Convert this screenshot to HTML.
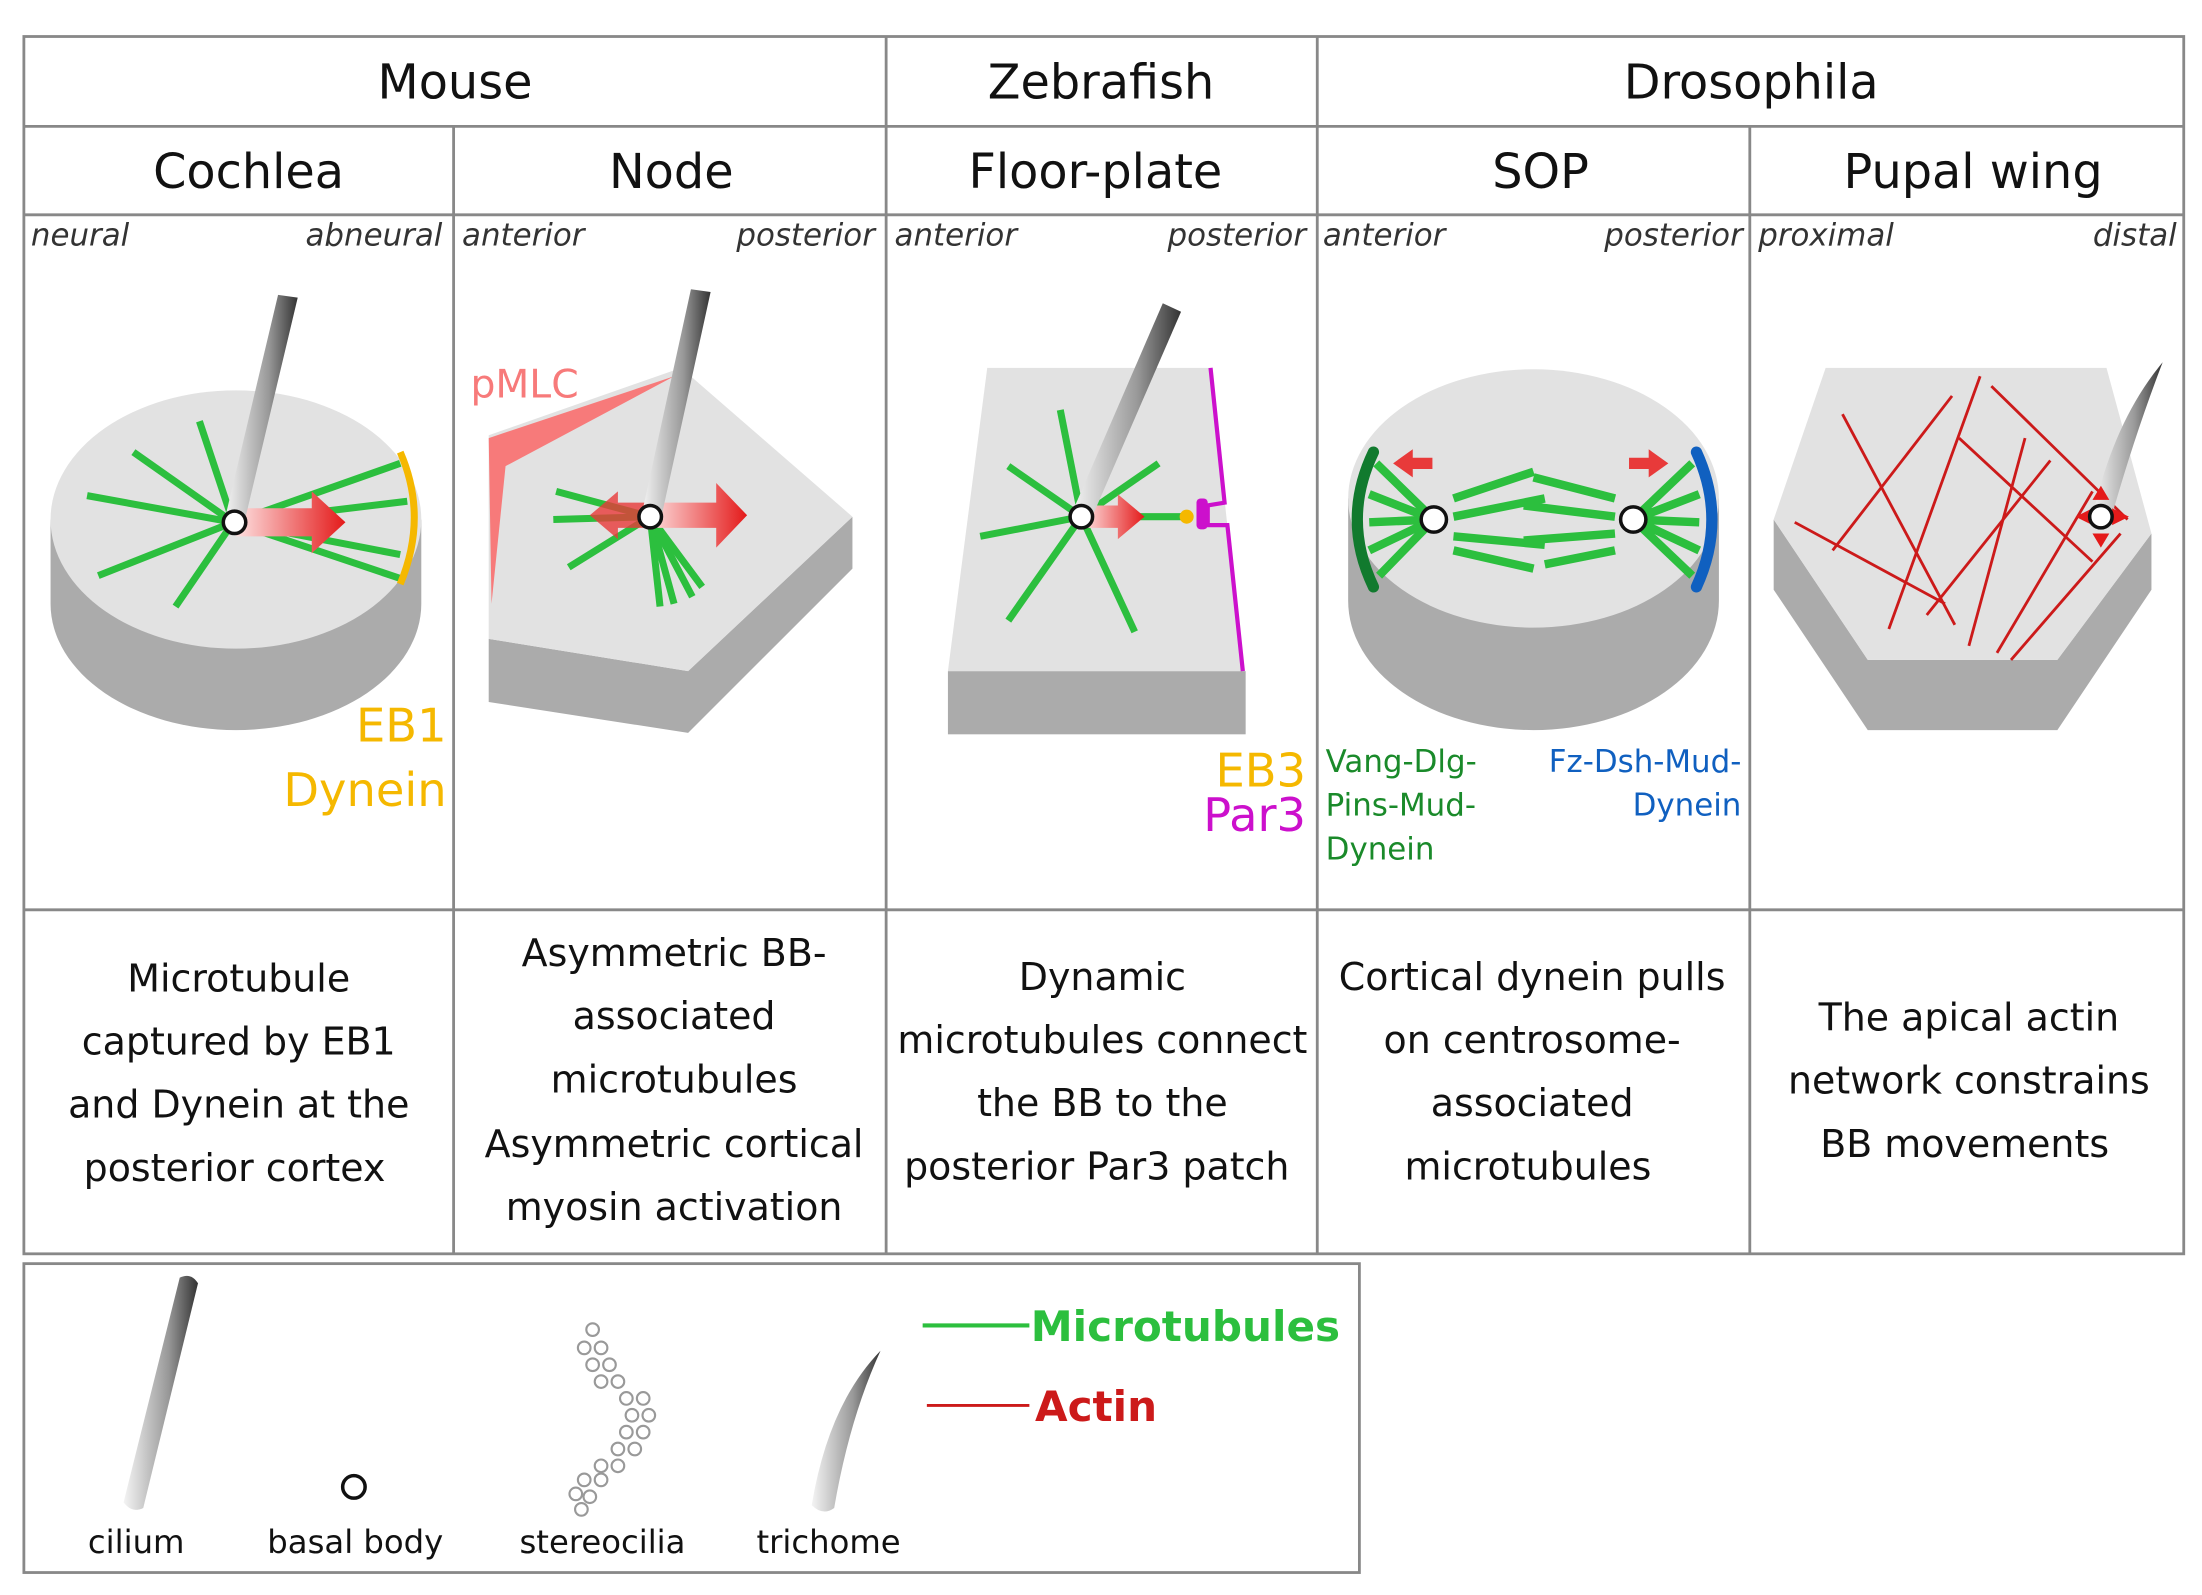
<!DOCTYPE html>
<html><head><meta charset="utf-8"><style>
html,body{margin:0;padding:0;background:#fff;}
svg{display:block;}
text{font-family:"DejaVu Sans","Liberation Sans",sans-serif;}
</style></head><body>
<svg width="2202" height="1595" viewBox="0 0 1568 1136" preserveAspectRatio="none" xmlns="http://www.w3.org/2000/svg">
<defs>
<linearGradient id="cil" x1="0" y1="0" x2="1" y2="0">
<stop offset="0" stop-color="#f4f4f4"/><stop offset="0.6" stop-color="#999"/><stop offset="1" stop-color="#333"/></linearGradient>
<linearGradient id="arr" x1="0" y1="0" x2="1" y2="0">
<stop offset="0" stop-color="#fde0e0"/><stop offset="1" stop-color="#e41a1a"/></linearGradient>
</defs>
<g stroke="#888" stroke-width="2" fill="none">
<rect x="17" y="26" width="1538" height="867"/>
<line x1="17" y1="90" x2="1555" y2="90"/>
<line x1="17" y1="153" x2="1555" y2="153"/>
<line x1="17" y1="648" x2="1555" y2="648"/>
<line x1="323" y1="90" x2="323" y2="893"/>
<line x1="631" y1="26" x2="631" y2="893"/>
<line x1="938" y1="26" x2="938" y2="893"/>
<line x1="1246" y1="90" x2="1246" y2="893"/>
<rect x="17" y="900" width="951" height="220"/>
</g>
<g font-size="34" fill="#111" text-anchor="middle">
<text x="324" y="70">Mouse</text><text x="784" y="70">Zebrafish</text><text x="1247" y="70">Drosophila</text>
<text x="177" y="134">Cochlea</text><text x="478" y="134">Node</text><text x="780" y="134">Floor-plate</text><text x="1097" y="134">SOP</text><text x="1405" y="134">Pupal wing</text>
</g>
<g font-size="22" font-style="italic" fill="#333">
<text x="22" y="175">neural</text><text x="315" y="175" text-anchor="end">abneural</text>
<text x="329" y="175">anterior</text><text x="623" y="175" text-anchor="end">posterior</text>
<text x="637" y="175">anterior</text><text x="930" y="175" text-anchor="end">posterior</text>
<text x="942" y="175">anterior</text><text x="1241" y="175" text-anchor="end">posterior</text>
<text x="1252" y="175">proximal</text><text x="1550" y="175" text-anchor="end">distal</text>
</g>
<!-- Cochlea -->
<path d="M36 370 L36 430 A132 90 0 0 0 300 430 L300 370 Z" fill="#ababab"/>
<ellipse cx="168" cy="370" rx="132" ry="92" fill="#e2e2e2"/>
<g stroke="#2cbf3e" stroke-width="5">
<line x1="166" y1="372" x2="62" y2="353"/><line x1="166" y1="372" x2="95" y2="322"/><line x1="166" y1="372" x2="142" y2="300"/>
<line x1="166" y1="372" x2="70" y2="410"/><line x1="166" y1="372" x2="125" y2="432"/><line x1="166" y1="372" x2="285" y2="330"/>
<line x1="166" y1="372" x2="290" y2="357"/><line x1="166" y1="372" x2="285" y2="412"/><line x1="166" y1="372" x2="285" y2="395"/>
</g>
<path d="M285 322 Q305 368 285 416" stroke="#f5b800" stroke-width="5" fill="none"/>
<path d="M168 362 L222 362 L222 350 L246 372 L222 394 L222 382 L168 382 Z" fill="url(#arr)"/>
<path d="M160 370 L198 210 L212 212 L174 372 Z" fill="url(#cil)"/>
<circle cx="167" cy="372" r="8" fill="#fff" stroke="#111" stroke-width="2.5"/>
<g font-size="33" fill="#f5b800" text-anchor="end"><text x="318" y="528">EB1</text><text x="318" y="574">Dynein</text></g>
<!-- Node -->
<path d="M348 455 L490 478 L607 368 L607 405 L490 522 L348 500 Z" fill="#ababab"/>
<path d="M348 310 L485 262 L607 368 L490 478 L348 455 Z" fill="#e2e2e2"/>
<path d="M348 312 L480 268 L360 332 L350 430 Z" fill="#f77a7a"/>
<text x="335" y="283" font-size="28" fill="#f77a7a">pMLC</text>
<g stroke="#2cbf3e" stroke-width="5">
<line x1="463" y1="368" x2="396" y2="350"/><line x1="463" y1="368" x2="394" y2="370"/><line x1="463" y1="368" x2="405" y2="404"/>
<line x1="463" y1="368" x2="480" y2="430"/><line x1="463" y1="368" x2="493" y2="425"/><line x1="463" y1="368" x2="500" y2="418"/><line x1="463" y1="368" x2="470" y2="432"/>
</g>
<path d="M462 358 L510 358 L510 344 L532 367 L510 390 L510 376 L462 376 Z" fill="url(#arr)"/>
<path d="M462 358 L440 358 L440 350 L420 367 L440 384 L440 376 L462 376 Z" fill="#e83a3a" opacity="0.8"/>
<path d="M457 366 L492 206 L506 208 L471 368 Z" fill="url(#cil)"/>
<circle cx="463" cy="368" r="8" fill="#fff" stroke="#111" stroke-width="2.5"/>
<!-- Floor plate -->
<rect x="675" y="478" width="212" height="45" fill="#ababab"/>
<path d="M703 262 L862 262 L885 478 L675 478 Z" fill="#e2e2e2"/>
<path d="M862 262 L872 358 L860 360 L860 374 L874 374 L885 478" stroke="#cc10cc" stroke-width="3" fill="none"/>
<rect x="852" y="355" width="8" height="22" rx="3" fill="#cc10cc"/>
<g stroke="#2cbf3e" stroke-width="5">
<line x1="770" y1="368" x2="698" y2="382"/><line x1="770" y1="368" x2="718" y2="332"/><line x1="770" y1="368" x2="755" y2="292"/>
<line x1="770" y1="368" x2="718" y2="442"/><line x1="770" y1="368" x2="808" y2="450"/><line x1="770" y1="368" x2="825" y2="330"/><line x1="770" y1="368" x2="845" y2="368"/>
</g>
<circle cx="845" cy="368" r="5" fill="#f5b800"/>
<path d="M772 360 L796 360 L796 352 L815 368 L796 384 L796 376 L772 376 Z" fill="url(#arr)"/>
<path d="M763 366 L828 216 L841 222 L776 372 Z" fill="url(#cil)"/>
<circle cx="770" cy="368" r="8" fill="#fff" stroke="#111" stroke-width="2.5"/>
<g font-size="33" text-anchor="end"><text x="930" y="560" fill="#f5b800">EB3</text><text x="930" y="592" fill="#cc10cc">Par3</text></g>
<!-- SOP -->
<path d="M960 355 L960 428 A132 92 0 0 0 1224 428 L1224 355 Z" fill="#ababab"/>
<ellipse cx="1092" cy="355" rx="132" ry="92" fill="#e2e2e2"/>
<path d="M978 322 Q955 370 978 418" stroke="#117a2e" stroke-width="8" fill="none" stroke-linecap="round"/>
<path d="M1208 322 Q1230 370 1208 418" stroke="#1060c0" stroke-width="8" fill="none" stroke-linecap="round"/>
<g stroke="#2cbf3e" stroke-width="6">
<line x1="1021" y1="370" x2="980" y2="330"/><line x1="1021" y1="370" x2="975" y2="352"/><line x1="1021" y1="370" x2="975" y2="372"/><line x1="1021" y1="370" x2="975" y2="392"/><line x1="1021" y1="370" x2="982" y2="410"/>
<line x1="1163" y1="370" x2="1205" y2="330"/><line x1="1163" y1="370" x2="1210" y2="352"/><line x1="1163" y1="370" x2="1210" y2="372"/><line x1="1163" y1="370" x2="1210" y2="392"/><line x1="1163" y1="370" x2="1205" y2="410"/>
<line x1="1035" y1="355" x2="1092" y2="336"/><line x1="1035" y1="368" x2="1100" y2="355"/><line x1="1035" y1="382" x2="1100" y2="388"/><line x1="1035" y1="392" x2="1092" y2="405"/>
<line x1="1150" y1="355" x2="1092" y2="340"/><line x1="1150" y1="368" x2="1085" y2="360"/><line x1="1150" y1="380" x2="1085" y2="385"/><line x1="1150" y1="392" x2="1100" y2="402"/>
</g>
<path d="M1020 326 L1006 326 L1006 320 L992 330 L1006 340 L1006 334 L1020 334 Z" fill="#e83a3a"/>
<path d="M1160 326 L1174 326 L1174 320 L1188 330 L1174 340 L1174 334 L1160 334 Z" fill="#e83a3a"/>
<circle cx="1021" cy="370" r="9" fill="#fff" stroke="#111" stroke-width="2.5"/>
<circle cx="1163" cy="370" r="9" fill="#fff" stroke="#111" stroke-width="2.5"/>
<g font-size="22" fill="#1a8a2a"><text x="944" y="550">Vang-Dlg-</text><text x="944" y="581">Pins-Mud-</text><text x="944" y="612">Dynein</text></g>
<g font-size="22" fill="#1060c0" text-anchor="end"><text x="1240" y="550">Fz-Dsh-Mud-</text><text x="1240" y="581">Dynein</text></g>
<!-- Pupal wing -->
<path d="M1263 370 L1330 470 L1465 470 L1532 380 L1532 420 L1465 520 L1330 520 L1263 420 Z" fill="#ababab"/>
<path d="M1300 262 L1500 262 L1532 380 L1465 470 L1330 470 L1263 370 Z" fill="#e2e2e2"/>
<g stroke="#cc1a1a" stroke-width="2">
<line x1="1312" y1="295" x2="1392" y2="445"/><line x1="1390" y1="282" x2="1305" y2="392"/><line x1="1410" y1="268" x2="1345" y2="448"/>
<line x1="1418" y1="275" x2="1515" y2="370"/><line x1="1395" y1="312" x2="1490" y2="400"/><line x1="1278" y1="372" x2="1385" y2="430"/>
<line x1="1460" y1="328" x2="1372" y2="438"/><line x1="1490" y1="350" x2="1422" y2="465"/><line x1="1510" y1="380" x2="1432" y2="470"/>
<line x1="1442" y1="312" x2="1402" y2="460"/>
</g>
<path d="M1490 368 Q1505 300 1540 258 Q1520 310 1503 370 Z" fill="url(#cil)"/>
<path d="M1478 368 L1490 362 L1490 374 Z M1516 368 L1504 362 L1504 374 Z M1496 346 L1490 356 L1502 356 Z M1496 390 L1490 380 L1502 380 Z" fill="#e41a1a"/>
<circle cx="1496" cy="368" r="8" fill="#fff" stroke="#111" stroke-width="2.5"/>
<!-- Descriptions -->
<g font-size="27" fill="#111" text-anchor="middle">
<text x="170" y="706">Microtubule</text><text x="170" y="751">captured by EB1</text><text x="170" y="796">and Dynein at the</text><text x="167" y="841">posterior cortex</text>
<text x="480" y="688">Asymmetric BB-</text><text x="480" y="733">associated</text><text x="480" y="778">microtubules</text><text x="480" y="824">Asymmetric cortical</text><text x="480" y="869">myosin activation</text>
<text x="785" y="705">Dynamic</text><text x="785" y="750">microtubules connect</text><text x="785" y="795">the BB to the</text><text x="781" y="840">posterior Par3 patch</text>
<text x="1091" y="705">Cortical dynein pulls</text><text x="1091" y="750">on centrosome-</text><text x="1091" y="795">associated</text><text x="1088" y="840">microtubules</text>
<text x="1402" y="734">The apical actin</text><text x="1402" y="779">network constrains</text><text x="1399" y="824">BB movements</text>
</g>
<!-- Legend -->
<path d="M88 1070 L128 910 Q136 906 141 914 L102 1074 Q94 1078 88 1070 Z" fill="url(#cil)"/>
<circle cx="252" cy="1059" r="8" fill="#fff" stroke="#111" stroke-width="2.5"/>
<g fill="none" stroke="#999" stroke-width="1.5">
<circle cx="422" cy="947" r="4.5"/><circle cx="416" cy="960" r="4.5"/><circle cx="428" cy="960" r="4.5"/><circle cx="422" cy="972" r="4.5"/><circle cx="434" cy="972" r="4.5"/>
<circle cx="428" cy="984" r="4.5"/><circle cx="440" cy="984" r="4.5"/><circle cx="446" cy="996" r="4.5"/><circle cx="458" cy="996" r="4.5"/><circle cx="450" cy="1008" r="4.5"/><circle cx="462" cy="1008" r="4.5"/>
<circle cx="446" cy="1020" r="4.5"/><circle cx="458" cy="1020" r="4.5"/><circle cx="440" cy="1032" r="4.5"/><circle cx="452" cy="1032" r="4.5"/><circle cx="428" cy="1044" r="4.5"/><circle cx="440" cy="1044" r="4.5"/>
<circle cx="416" cy="1054" r="4.5"/><circle cx="428" cy="1054" r="4.5"/><circle cx="410" cy="1064" r="4.5"/><circle cx="420" cy="1066" r="4.5"/><circle cx="414" cy="1075" r="4.5"/>
</g>
<path d="M578 1072 Q590 1000 627 962 Q605 1010 594 1074 Q586 1080 578 1072 Z" fill="url(#cil)"/>
<g font-size="23" fill="#111" text-anchor="middle"><text x="97" y="1106">cilium</text><text x="253" y="1106">basal body</text><text x="429" y="1106">stereocilia</text><text x="590" y="1106">trichome</text></g>
<line x1="657" y1="944" x2="733" y2="944" stroke="#2cbf3e" stroke-width="3"/>
<line x1="660" y1="1001" x2="733" y2="1001" stroke="#cc1a1a" stroke-width="2"/>
<text x="734" y="955" font-size="30" font-weight="bold" fill="#2cbf3e">Microtubules</text>
<text x="737" y="1012" font-size="30" font-weight="bold" fill="#cc1a1a">Actin</text>
</svg>
</body></html>
